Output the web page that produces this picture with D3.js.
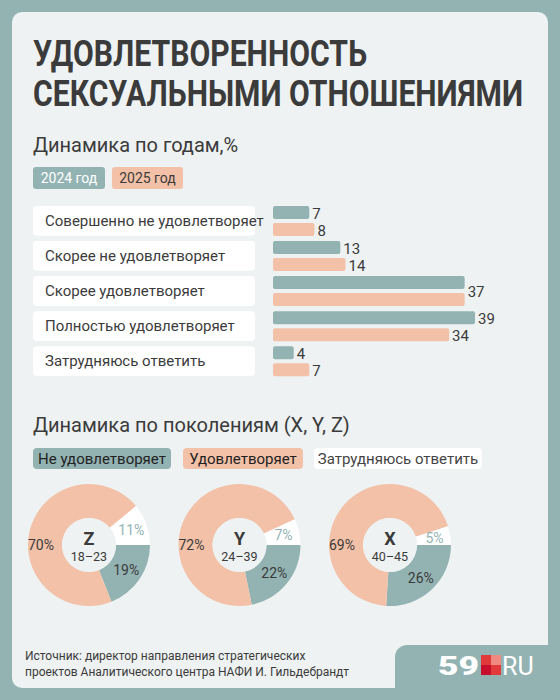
<!DOCTYPE html>
<html><head><meta charset="utf-8">
<script src="https://cdn.jsdelivr.net/npm/d3@7"></script>
<style>body{margin:0}svg{display:block;font-family:Roboto,sans-serif}</style>
</head><body>
<script>
var categories = ["Совершенно не удовлетворяет", "Скорее не удовлетворяет", "Скорее удовлетворяет", "Полностью удовлетворяет", "Затрудняюсь ответить"];
var years = ["2024 год", "2025 год"];
var values2024 = [7, 13, 37, 39, 4];
var values2025 = [8, 14, 37, 34, 7];

var generations = ["Z", "Y", "X"];
var ages = ["18–23", "24–39", "40–45"];
var answers = ["Не удовлетворяет", "Удовлетворяет", "Затрудняюсь ответить"];
var notSatisfied = [19, 22, 26];
var satisfied = [70, 72, 69];
var hardToSay = [11, 7, 5];

var teal = "#93b3b3", peach = "#f3c1a8", panel = "#eef2f2", ink = "#3b3b3b";

var svg = d3.select("body").append("svg").attr("width", 560).attr("height", 700);
svg.append("rect").attr("width", 560).attr("height", 700).attr("fill", teal);
svg.append("rect").attr("x", 12).attr("y", 12).attr("width", 536).attr("height", 676).attr("rx", 10).attr("fill", panel);
// notch for logo
svg.append("rect").attr("x", 395).attr("y", 645).attr("width", 170).attr("height", 60).attr("rx", 12).attr("fill", teal);

svg.append("text").attr("x", 33).attr("y", 66).attr("font-size", 36).attr("font-weight", 700).attr("fill", ink)
  .attr("textLength", 334).attr("lengthAdjust", "spacingAndGlyphs").text("УДОВЛЕТВОРЕННОСТЬ");
svg.append("text").attr("x", 33).attr("y", 106).attr("font-size", 36).attr("font-weight", 700).attr("fill", ink)
  .attr("textLength", 490).attr("lengthAdjust", "spacingAndGlyphs").text("СЕКСУАЛЬНЫМИ ОТНОШЕНИЯМИ");

svg.append("text").attr("x", 33).attr("y", 152).attr("font-size", 20).attr("fill", ink).text("Динамика по годам,%");

// year legend
var yl = [{x: 33, w: 72, c: teal, t: "#fff"}, {x: 112, w: 71, c: peach, t: ink}];
yl.forEach(function(d, i) {
  svg.append("rect").attr("x", d.x).attr("y", 167).attr("width", d.w).attr("height", 22).attr("rx", 3).attr("fill", d.c);
  svg.append("text").attr("x", d.x + d.w / 2).attr("y", 183).attr("text-anchor", "middle").attr("font-size", 14).attr("fill", d.t).text(years[i]);
});

// bars
var y = d3.scaleBand().domain(categories).range([206, 376]).paddingInner(0.15).paddingOuter(0);
var x = d3.scaleLinear().domain([0, 39]).range([273, 475]);
var rows = svg.append("g").selectAll("g").data(categories).enter().append("g");
rows.append("rect").attr("x", 33).attr("y", function(d) { return y(d); }).attr("width", 222).attr("height", y.bandwidth())
  .attr("rx", 4).attr("fill", "#fff");
rows.append("text").attr("x", 45).attr("y", function(d) { return y(d) + y.bandwidth() / 2 + 5; })
  .attr("font-size", 15).attr("fill", ink).text(function(d) { return d; });
[values2024, values2025].forEach(function(vals, k) {
  var bh = 13, off = k === 0 ? 0 : 17;
  var other = k === 0 ? values2025 : values2024;
  var items = vals.map(function(v, i) { return {v: v, cat: categories[i], same: v === other[i]}; });
  svg.append("g").selectAll("rect").data(items).enter().append("rect")
    .attr("x", x(0)).attr("y", function(d) { return y(d.cat) + off; })
    .attr("width", function(d) { return x(d.v) - x(0); }).attr("height", bh).attr("rx", 2)
    .attr("fill", k === 0 ? teal : peach);
  svg.append("g").selectAll("text").data(items.filter(function(d) { return !(k === 1 && d.same); })).enter()
    .append("text")
    .attr("x", function(d) { return x(d.v) + 3; })
    .attr("y", function(d) { return y(d.cat) + (d.same ? 21 : off + 13); })
    .attr("font-size", 15).attr("fill", ink).text(function(d) { return d.v; });
});

svg.append("text").attr("x", 33).attr("y", 432).attr("font-size", 20).attr("fill", ink).text("Динамика по поколениям (X, Y, Z)");

// answer legend
var al = [{x: 33, w: 138, c: teal}, {x: 183, w: 120, c: peach}, {x: 314, w: 168, c: "#fff"}];
al.forEach(function(d, i) {
  svg.append("rect").attr("x", d.x).attr("y", 448).attr("width", d.w).attr("height", 21).attr("rx", 4).attr("fill", d.c);
  svg.append("text").attr("x", d.x + d.w / 2).attr("y", 464).attr("text-anchor", "middle").attr("font-size", 15)
    .attr("fill", i === 2 ? "#444" : "#222").text(answers[i]);
});

// donuts
var cx = d3.scalePoint().domain(generations).range([89, 390]);
var pie = d3.pie().sort(null).value(function(d) { return d.v; }).startAngle(Math.PI / 2).endAngle(Math.PI / 2 + 2 * Math.PI);
var arc = d3.arc().innerRadius(27).outerRadius(61);
var labelArc = d3.arc().innerRadius(45).outerRadius(45);
var colors = [teal, peach, "#fff"];
generations.forEach(function(g, i) {
  var data = [{v: notSatisfied[i]}, {v: satisfied[i]}, {v: hardToSay[i]}];
  var grp = svg.append("g").attr("transform", "translate(" + cx(g) + ",545)");
  var arcs = pie(data);
  grp.selectAll("path").data(arcs).enter().append("path").attr("d", arc).attr("fill", function(d, j) { return colors[j]; });
  grp.selectAll("text.p").data(arcs).enter().append("text")
    .attr("transform", function(d, j) {
      var c = j === 1 ? [-48, 0] : labelArc.centroid(d);
      return "translate(" + c[0] + "," + (c[1] + 5) + ")";
    })
    .attr("text-anchor", "middle").attr("font-size", 14)
    .attr("fill", function(d, j) { return j === 2 ? teal : ink; }).text(function(d) { return d.data.v + "%"; });
  grp.append("circle").attr("r", 27).attr("fill", panel);
  grp.append("text").attr("y", 0).attr("text-anchor", "middle").attr("font-size", 18).attr("font-weight", 700).attr("fill", ink).text(g);
  grp.append("text").attr("y", 16).attr("text-anchor", "middle").attr("font-size", 12.5).attr("fill", ink).text(ages[i]);
});

svg.append("text").attr("x", 25).attr("y", 660).attr("font-size", 12).attr("fill", ink).text("Источник: директор направления стратегических");
svg.append("text").attr("x", 25).attr("y", 676).attr("font-size", 12).attr("fill", ink).text("проектов Аналитического центра НАФИ И. Гильдебрандт");

// logo
svg.append("text").attr("x", 438).attr("y", 675).attr("font-size", 26).attr("font-weight", 900).attr("fill", "#fff")
  .attr("textLength", 41).attr("lengthAdjust", "spacingAndGlyphs").text("59");
svg.append("rect").attr("x", 481).attr("y", 655).attr("width", 10).attr("height", 10).attr("fill", "#e03a3a");
svg.append("rect").attr("x", 491).attr("y", 655).attr("width", 10).attr("height", 10).attr("fill", "#f08a80");
svg.append("rect").attr("x", 481).attr("y", 665).attr("width", 10).attr("height", 10).attr("fill", "#c8102e");
svg.append("rect").attr("x", 491).attr("y", 665).attr("width", 10).attr("height", 10).attr("fill", "#e03a3a");
svg.append("text").attr("x", 502).attr("y", 675).attr("font-size", 25).attr("fill", "#fff").text("RU");
</script>
</body></html>
